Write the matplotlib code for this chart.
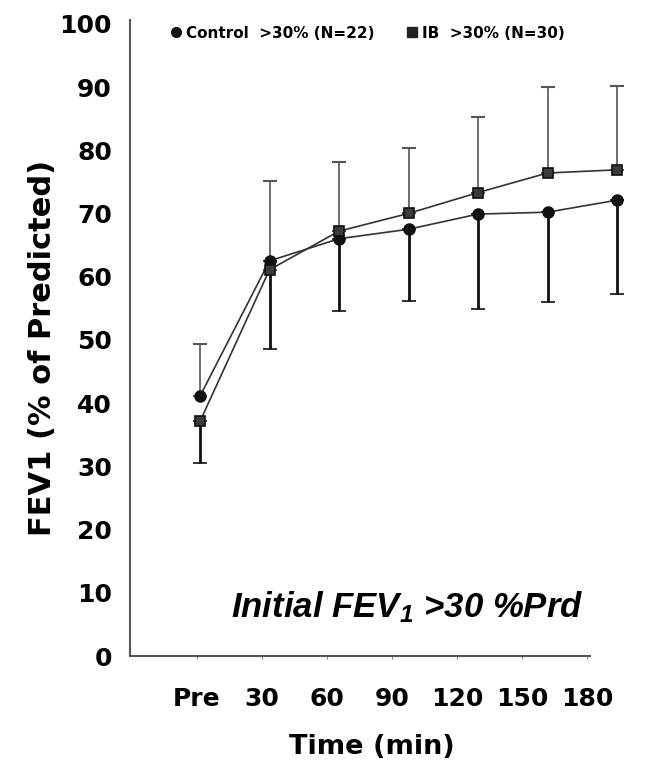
import numpy as np
import matplotlib.pyplot as plt
from matplotlib.lines import Line2D

# time points (x tick labels)
time_labels = ["Pre", "30", "60", "90", "120", "150", "180"]

# FEV1 (% of predicted)
control_mean = [41.1, 62.5, 66.0, 67.5, 69.9, 70.2, 72.1]
control_lower = [0.0, 14.0, 11.5, 11.4, 15.0, 14.2, 14.8]
control_upper = [8.2, 0.0, 0.0, 0.0, 0.0, 0.0, 0.0]

ib_mean = [37.1, 61.1, 67.2, 70.0, 73.3, 76.4, 76.9]
ib_upper = [0.0, 14.1, 10.9, 10.3, 11.9, 13.6, 13.3]
ib_lower = [6.5, 0.0, 0.0, 0.0, 0.0, 0.0, 0.0]

W, H = 651, 765
plt.rcParams["font.family"] = ["DejaVu Sans"]
plt.rcParams["mathtext.fontset"] = "custom"
plt.rcParams["mathtext.rm"] = "Liberation Sans:bold:italic"
plt.rcParams["mathtext.it"] = "Liberation Sans:bold:italic"
fig = plt.figure(figsize=(W / 100, H / 100), dpi=100)

# main axes: spines, ticks, labels
ax = fig.add_axes([130 / W, 1 - 656 / H, 460 / W, 636 / H])
ax.set_ylim(0, 100.6)
ax.set_xlim((130 - 197) / 65, (590 - 197) / 65)
ax.set_yticks(np.arange(0, 101, 10))
ax.set_yticklabels([str(v) for v in range(0, 101, 10)], fontsize=18, fontweight="bold")
ax.set_xticks(np.arange(len(time_labels)))
ax.set_xticklabels(time_labels, fontsize=18, fontweight="bold")
ax.tick_params(axis="y", length=0, pad=13)
ax.tick_params(axis="x", length=2, pad=20, color="#888888")
for s in ["top", "right"]:
    ax.spines[s].set_visible(False)
for s in ["left", "bottom"]:
    ax.spines[s].set_color("#555555")
    ax.spines[s].set_linewidth(1.5)
ax.set_ylabel("FEV1 (% of Predicted)", fontsize=22, fontweight="bold")
ax.yaxis.set_label_coords(-0.158, 0.485)
ax.set_xlabel("Time (min)", fontsize=19.5, fontweight="bold")
ax.xaxis.set_label_coords(0.525, -0.122)

# data axes (the traced curves sit slightly offset from the tick labels)
axd = fig.add_axes([130 / W, 1 - 656 / H, 510 / W, 636 / H], sharey=ax)
axd.set_xlim((130 - 200) / 69.5, (640 - 200) / 69.5)
axd.set_axis_off()
x = np.arange(len(time_labels))
zeros = np.zeros(len(x))

# upper bars are thin/grey, lower bars thick/black in the original
for mean, lo, up in [(control_mean, control_lower, control_upper),
                     (ib_mean, ib_lower, ib_upper)]:
    up = np.array(up)
    lo = np.array(lo)
    m = up > 0
    axd.errorbar(x[m], np.array(mean)[m], yerr=[zeros[m], up[m]], fmt="none",
                 ecolor="#555555", elinewidth=1.2, capsize=5, capthick=1.5)
    m = lo > 0
    axd.errorbar(x[m], np.array(mean)[m], yerr=[lo[m], zeros[m]], fmt="none",
                 ecolor="#111111", elinewidth=2.0, capsize=5, capthick=1.2)

axd.plot(x, control_mean, color="#333333", lw=1.2, marker="o", ms=8,
         mfc="#111111", mec="#111111")
axd.plot(x, ib_mean, color="#333333", lw=1.2, marker="s", ms=7.5,
         mfc="#3a3a3a", mec="#111111", mew=1.2)

ax.text(3.23, 7.8, r"Initial FEV$_1$ >30 %Prd", fontsize=25,
        fontweight="bold", fontstyle="italic", family="Liberation Sans",
        ha="center", va="center")

handles = [
    Line2D([], [], ls="none", marker="o", ms=7, color="#111111"),
    Line2D([], [], ls="none", marker="s", ms=7, color="#222222"),
]
fig.legend(handles, ["Control  >30% (N=22)", "IB  >30% (N=30)"], loc="center left",
           bbox_to_anchor=(162 / W, 1 - 33 / H), ncol=2, frameon=False,
           handlelength=0.8, handletextpad=0.3, columnspacing=2.0,
           borderpad=0, prop={"size": 11, "weight": "bold"})

fig.savefig("out.png", dpi=100)
